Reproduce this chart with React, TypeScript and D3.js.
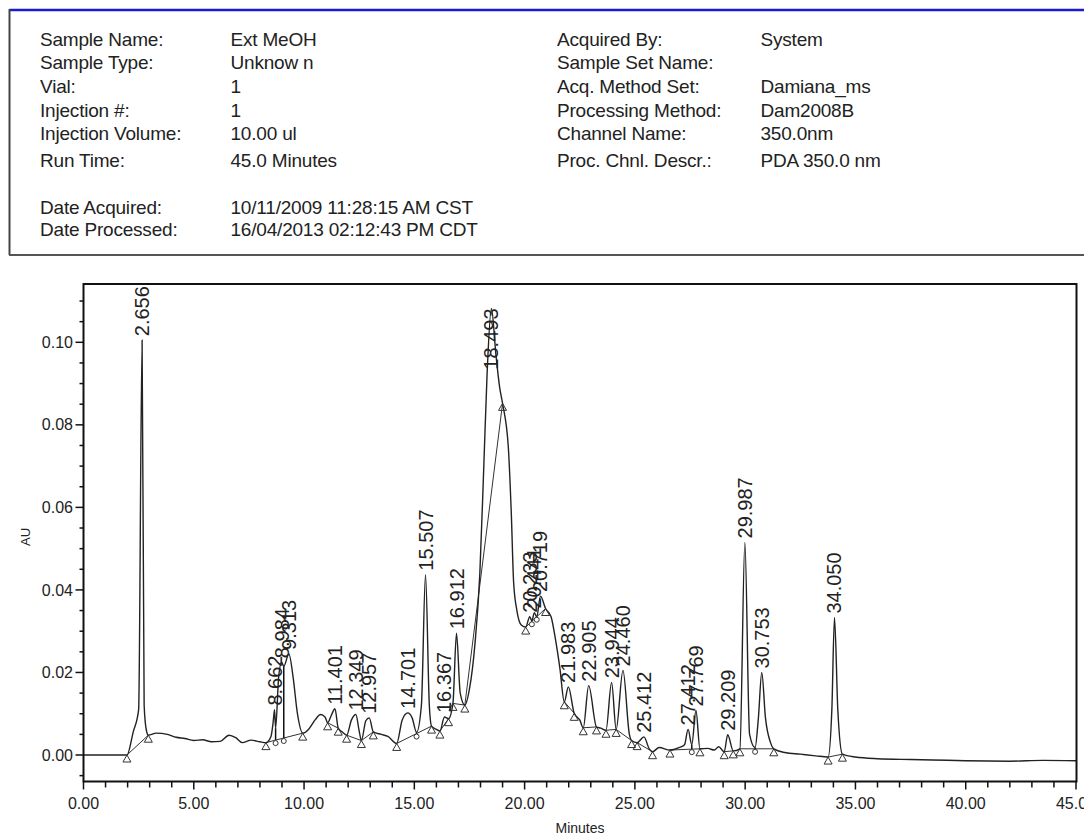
import React from "react";
import * as d3 from "d3";

// ---- Report header ----
const headerLeftLabels = [
  "Sample Name:",
  "Sample Type:",
  "Vial:",
  "Injection #:",
  "Injection Volume:",
  "Run Time:",
  "Date Acquired:",
  "Date Processed:",
];
const headerLeftValues = [
  "Ext MeOH",
  "Unknow n",
  "1",
  "1",
  "10.00 ul",
  "45.0 Minutes",
  "10/11/2009 11:28:15 AM CST",
  "16/04/2013 02:12:43 PM CDT",
];
const headerRightLabels = [
  "Acquired By:",
  "Sample Set Name:",
  "Acq. Method Set:",
  "Processing Method:",
  "Channel Name:",
  "Proc. Chnl. Descr.:",
];
const headerRightValues = ["System", "", "Damiana_ms", "Dam2008B", "350.0nm", "PDA 350.0 nm"];

// ---- Integrated peaks: retention time (min) and apex absorbance (AU) ----
const peakTimes = [
  2.656, 8.662, 8.984, 9.313, 11.401, 12.349, 12.957, 14.701, 15.507, 16.367, 16.912, 18.493,
  20.233, 20.441, 20.719, 21.983, 22.905, 23.944, 24.46, 25.412, 27.412, 27.769, 29.209, 29.987,
  30.753, 34.05,
];
const peakHeights = [
  0.1005, 0.011, 0.0225, 0.0245, 0.0112, 0.0098, 0.009, 0.0102, 0.0437, 0.0092, 0.0295, 0.1082,
  0.0335, 0.0345, 0.0385, 0.0165, 0.0168, 0.0176, 0.0205, 0.0044, 0.0062, 0.0108, 0.0049, 0.0515,
  0.02, 0.0333,
];

// ---- Detector signal between the apexes: [minutes, AU] ----
const signalPoints: [number, number][] = [
  [0, 0], [1.0, 0], [1.97, 0], [2.25, 0.0055], [2.5, 0.011], [2.75, 0.012], [2.85, 0.006],
  [2.94, 0.0048], [3.3, 0.0053], [3.8, 0.005], [4.2, 0.0043], [4.6, 0.004], [5.0, 0.0035],
  [5.4, 0.0037], [5.8, 0.0032], [6.2, 0.0033], [6.6, 0.0048], [6.9, 0.0042], [7.2, 0.003],
  [7.6, 0.0036], [8.0, 0.0032], [8.27, 0.003], [8.5, 0.0045], [8.6, 0.008], [8.71, 0.0065],
  [8.85, 0.019], [9.08, 0.0215], [9.5, 0.019], [9.7, 0.01], [9.94, 0.0053], [10.2, 0.0062],
  [10.5, 0.0085], [10.75, 0.0098], [10.95, 0.0092], [11.07, 0.0078], [11.25, 0.0098],
  [11.55, 0.0065], [11.75, 0.0055], [11.93, 0.0048], [12.15, 0.0085], [12.5, 0.0058],
  [12.6, 0.0035], [12.8, 0.0083], [13.14, 0.0056], [13.5, 0.005], [13.8, 0.0045], [14.2, 0.0028],
  [14.45, 0.0085], [14.9, 0.009], [15.1, 0.0055], [15.32, 0.012], [15.68, 0.012], [15.78, 0.007],
  [16.0, 0.0062], [16.16, 0.0058], [16.55, 0.0088], [16.75, 0.0125], [17.08, 0.015],
  [17.29, 0.0121], [17.5, 0.016], [17.75, 0.027], [17.97, 0.044], [18.15, 0.07], [18.3, 0.0925],
  [18.7, 0.097], [18.87, 0.089], [19.0, 0.0852], [19.26, 0.0747], [19.4, 0.058], [19.5, 0.042],
  [19.65, 0.035], [19.85, 0.0315], [20.05, 0.031], [20.33, 0.0325], [20.55, 0.0335],
  [20.95, 0.0355], [21.2, 0.0335], [21.4, 0.028], [21.6, 0.021], [21.8, 0.0129], [22.25, 0.0101],
  [22.5, 0.0085], [22.66, 0.0066], [23.26, 0.0068], [23.45, 0.0065], [23.69, 0.006],
  [24.15, 0.0062], [24.75, 0.005], [24.85, 0.0035], [25.1, 0.003], [25.65, 0.0015],
  [25.8, 0.0008], [26.1, 0.0018], [26.59, 0.0012], [27.0, 0.0018], [27.25, 0.0025],
  [27.58, 0.0025], [27.95, 0.0015], [28.3, 0.0016], [28.6, 0.0012], [28.8, 0.002],
  [29.05, 0.0008], [29.46, 0.001], [29.76, 0.0015], [30.2, 0.005], [30.45, 0.0018], [30.6, 0.009],
  [30.92, 0.009], [31.15, 0.003], [31.3, 0.0015], [31.8, 0.0006], [32.5, 0.0002], [33.2, -0.0002],
  [33.76, -0.0005], [33.93, 0.011], [34.2, 0.011], [34.41, 0.0002], [35.0, -0.0005],
  [36.0, -0.0009], [37.5, -0.0011], [38.5, -0.0012], [40.0, -0.0014], [42.0, -0.0015],
  [43.5, -0.0013], [45.0, -0.0014],
];

// ---- Integration baselines: [start min, start AU, end min, end AU] ----
const integrationBaselines: [number, number, number, number][] = [
  [1.97, 0, 2.94, 0.0048],
  [8.27, 0.003, 9.94, 0.0053],
  [11.07, 0.0078, 11.55, 0.0065],
  [11.93, 0.0048, 12.6, 0.0035],
  [12.6, 0.0035, 13.14, 0.0056],
  [14.2, 0.0028, 15.78, 0.007],
  [16.16, 0.0058, 16.55, 0.0088],
  [16.75, 0.0125, 17.29, 0.0121],
  [17.29, 0.0121, 19.0, 0.0852],
  [20.05, 0.031, 20.95, 0.0355],
  [21.8, 0.0129, 22.25, 0.0101],
  [22.66, 0.0066, 23.26, 0.0068],
  [23.69, 0.006, 24.15, 0.0062],
  [24.15, 0.0062, 24.85, 0.0035],
  [25.1, 0.003, 25.8, 0.0008],
  [26.59, 0.0012, 27.95, 0.0015],
  [29.05, 0.0008, 29.46, 0.001],
  [29.76, 0.0015, 31.3, 0.0015],
  [33.76, -0.0005, 34.41, 0.0002],
];

// ---- Valley drop lines between fused peaks (minutes) ----
const dropTimes = [8.71, 9.08, 15.1, 20.33, 20.55, 27.58, 30.45];

// ---- Axes ----
const xTickValues = [0, 5, 10, 15, 20, 25, 30, 35, 40, 45];
const yTickValues = [0, 0.02, 0.04, 0.06, 0.08, 0.1];

const FONT = "'Liberation Sans', Arial, Helvetica, sans-serif";
const INK = "#222";

export default function App() {
  const W = 1084;
  const H = 837;
  const plot = { left: 83.5, right: 1076.5, top: 284, bottom: 781.5 };

  const x = d3.scaleLinear().domain([0, 45]).range([83.5, 1076]);
  const y = d3.scaleLinear().domain([0, 0.1]).range([755, 342.3]);

  const apexes: [number, number][] = peakTimes.map((t, i) => [t, peakHeights[i]]);
  const trace = [...signalPoints, ...apexes].sort((a, b) => a[0] - b[0]);

  const line = d3
    .line<[number, number]>()
    .x((d) => x(d[0]))
    .y((d) => y(d[1]))
    .curve(d3.curveMonotoneX);

  const signalAt = (t: number) => {
    const p = trace.find((d) => Math.abs(d[0] - t) < 1e-9);
    return p ? p[1] : 0;
  };
  const baselineAt = (t: number) => {
    const seg = integrationBaselines.find((s) => t >= s[0] && t <= s[2]);
    if (!seg) return signalAt(t);
    const k = (t - seg[0]) / (seg[2] - seg[0]);
    return seg[1] + k * (seg[3] - seg[1]);
  };

  // peak start / end markers
  const markerKeys = new Set<string>();
  const triangles: [number, number][] = [];
  integrationBaselines.forEach((s) => {
    [[s[0], s[1]], [s[2], s[3]]].forEach((p) => {
      const key = `${p[0]}`;
      if (!markerKeys.has(key)) {
        markerKeys.add(key);
        triangles.push([p[0], p[1]]);
      }
    });
  });

  const xMinor = d3.range(0, 46, 1);
  const yMinor = d3.range(-0.005, 0.1101, 0.005);

  const labelFs = 20;
  const labelLen = (s: string) => (s.replace(".", "").length * 0.556 + 0.278) * labelFs;

  const headerFs = 19;
  const leftRowsY = [39, 62, 86, 110, 133, 160, 207, 229];
  const rightRowsY = [39, 62, 86, 110, 133, 160];

  return (
    <svg
      width={W}
      height={H}
      viewBox={`0 0 ${W} ${H}`}
      style={{ position: "absolute", left: 0, top: 0, background: "#fff" }}
      fontFamily={FONT}
    >
      <rect x={0} y={0} width={W} height={H} fill="#fff" />

      {/* header box */}
      <line x1={9.5} y1={10} x2={W} y2={10} stroke="#1a1ad0" strokeWidth={2.5} />
      <line x1={9.5} y1={9} x2={9.5} y2={255} stroke="#444" strokeWidth={2} />
      <line x1={9} y1={255} x2={W} y2={255} stroke="#555" strokeWidth={2} />

      <g fontSize={headerFs} fill={INK} letterSpacing={-0.2}>
        {headerLeftLabels.map((s, i) => (
          <text key={`ll${i}`} x={40} y={leftRowsY[i]} dy="0.35em">
            {s}
          </text>
        ))}
        {headerLeftValues.map((s, i) => (
          <text key={`lv${i}`} x={230.5} y={leftRowsY[i]} dy="0.35em">
            {s}
          </text>
        ))}
        {headerRightLabels.map((s, i) => (
          <text key={`rl${i}`} x={557} y={rightRowsY[i]} dy="0.35em">
            {s}
          </text>
        ))}
        {headerRightValues.map((s, i) => (
          <text key={`rv${i}`} x={760.5} y={rightRowsY[i]} dy="0.35em">
            {s}
          </text>
        ))}
      </g>

      <defs>
        <clipPath id="plotClip">
          <rect x={plot.left} y={plot.top} width={plot.right - plot.left} height={plot.bottom - plot.top} />
        </clipPath>
      </defs>

      <g clipPath="url(#plotClip)">
        {/* integration baselines */}
        {integrationBaselines.map((s, i) => (
          <line
            key={`bl${i}`}
            x1={x(s[0])}
            y1={y(s[1])}
            x2={x(s[2])}
            y2={y(s[3])}
            stroke="#333"
            strokeWidth={1}
          />
        ))}
        {/* drop lines */}
        {dropTimes.map((t, i) => (
          <line
            key={`dl${i}`}
            x1={x(t)}
            x2={x(t)}
            y1={y(signalAt(t))}
            y2={y(baselineAt(t))}
            stroke="#111"
            strokeWidth={1.5}
          />
        ))}
        {/* chromatogram */}
        <path d={line(trace) ?? ""} fill="none" stroke="#222" strokeWidth={1.4} />

        {/* start / end markers */}
        {triangles.map((p, i) => {
          const cx = x(p[0]);
          const cy = y(p[1]);
          return (
            <path
              key={`tr${i}`}
              d={`M${cx},${cy} L${cx + 4},${cy + 7} L${cx - 4},${cy + 7} Z`}
              fill="none"
              stroke="#333"
              strokeWidth={1}
            />
          );
        })}
        {dropTimes.map((t, i) => (
          <circle key={`dc${i}`} cx={x(t)} cy={y(baselineAt(t)) + 3} r={2.5} fill="#fff" stroke="#333" strokeWidth={1} />
        ))}

        {/* retention time labels */}
        {apexes.map(([t, v], i) => {
          const label = t.toFixed(3);
          const px = x(t);
          const py = y(v);
          const fits = py - 4 - labelLen(label) >= plot.top;
          return (
            <text
              key={`pl${i}`}
              transform={`translate(${px},${fits ? py - 4 : py}) rotate(-90)`}
              textAnchor={fits ? "start" : "end"}
              dy="0.35em"
              fontSize={labelFs}
              fill={INK}
            >
              {label}
            </text>
          );
        })}
      </g>

      {/* frame */}
      <rect
        x={plot.left}
        y={plot.top}
        width={plot.right - plot.left}
        height={plot.bottom - plot.top}
        fill="none"
        stroke="#111"
        strokeWidth={2}
      />

      {/* x axis */}
      <g stroke="#111" strokeWidth={1.5}>
        {xMinor.map((t) => (
          <line key={`xm${t}`} x1={x(t)} x2={x(t)} y1={plot.bottom} y2={plot.bottom + (t % 5 === 0 ? 8 : 6)} />
        ))}
      </g>
      <g fontSize={16} fill={INK} textAnchor="middle">
        {xTickValues.map((t) => (
          <text key={`xl${t}`} x={x(t)} y={803} dy="0.35em">
            {t.toFixed(2)}
          </text>
        ))}
      </g>
      <text x={580} y={828} dy="0.35em" fontSize={14} fill={INK} textAnchor="middle">
        Minutes
      </text>

      {/* y axis */}
      <g stroke="#111" strokeWidth={1.5}>
        {yMinor.map((v, i) => {
          const major = yTickValues.some((m) => Math.abs(m - v) < 1e-6);
          return <line key={`ym${i}`} x1={plot.left - (major ? 8 : 4)} x2={plot.left} y1={y(v)} y2={y(v)} />;
        })}
      </g>
      <g fontSize={16} fill={INK} textAnchor="end">
        {yTickValues.map((v) => (
          <text key={`yl${v}`} x={73} y={y(v)} dy="0.35em">
            {v.toFixed(2)}
          </text>
        ))}
      </g>
      <text
        transform={`translate(25,537) rotate(-90)`}
        dy="0.35em"
        fontSize={13}
        fill={INK}
        textAnchor="middle"
      >
        AU
      </text>
    </svg>
  );
}
